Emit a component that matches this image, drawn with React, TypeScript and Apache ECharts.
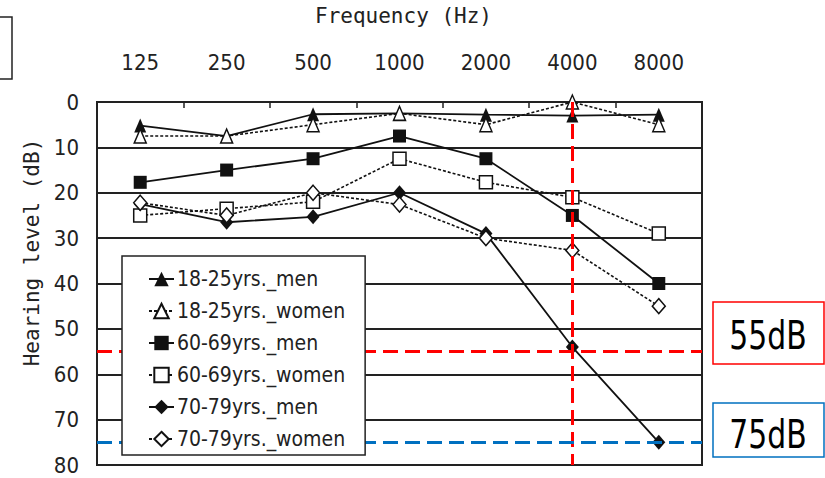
import React, { useEffect, useRef } from "react";
import * as echarts from "echarts";

const freqs = ["125", "250", "500", "1000", "2000", "4000", "8000"];
const yTicks = [0, 10, 20, 30, 40, 50, 60, 70, 80];
const men18 = [5.2, 7.5, 2.7, 2.5, 2.8, 3, 2.8];
const women18 = [7.5, 7.5, 5, 2.5, 5, 0, 5];
const men60 = [17.7, 15, 12.5, 7.5, 12.5, 25, 40];
const women60 = [25, 23.5, 22, 12.5, 17.7, 21, 29];
const men70 = [22.5, 26.5, 25.3, 20, 29, 54, 75];
const women70 = [22.2, 25, 20, 22.6, 30, 32.7, 45];
const seriesNames = [
  "18-25yrs._men",
  "18-25yrs._women",
  "60-69yrs._men",
  "60-69yrs._women",
  "70-79yrs._men",
  "70-79yrs._women",
];
const refFreq = "4000";
const refLevels = [55, 75];
const refLabels = ["55dB", "75dB"];

const NARROW = "'Liberation Sans Narrow', 'DejaVu Sans Condensed', sans-serif";
const MONO = "'DejaVu Sans Mono', monospace";

export default function App() {
  const ref = useRef<HTMLDivElement>(null);
  useEffect(() => {
    if (!ref.current) return;
    const chart = echarts.init(ref.current, null, { renderer: "svg" });
    const mk = (
      name: string,
      data: number[],
      symbol: string,
      size: any,
      filled: boolean,
      dashed: boolean
    ) => ({
      name,
      type: "line",
      data,
      symbol,
      symbolSize: size,
      showAllSymbol: true,
      lineStyle: { color: "#111", width: dashed ? 1.6 : 1.8, type: dashed ? [3, 2] : "solid" },
      itemStyle: {
        color: filled ? "#111" : "#fff",
        borderColor: "#111",
        borderWidth: filled ? 0 : 1.5,
      },
      z: 3,
    });
    const series: any[] = [
      mk(seriesNames[0], men18, "triangle", [12, 14], true, false),
      mk(seriesNames[1], women18, "triangle", [12, 14], false, true),
      mk(seriesNames[2], men60, "rect", 13, true, false),
      mk(seriesNames[3], women60, "rect", 13, false, true),
      mk(seriesNames[4], men70, "diamond", [13, 15], true, false),
      mk(seriesNames[5], women70, "diamond", [13, 15], false, true),
    ];
    series.push({
      type: "line",
      data: [],
      silent: true,
      markLine: {
        silent: true,
        symbol: "none",
        label: { show: false },
        data: [
          { xAxis: freqs.indexOf(refFreq), lineStyle: { color: "#ff0000", width: 3, type: [15, 7] } },
          { yAxis: refLevels[0], lineStyle: { color: "#ff0000", width: 3, type: [15, 7] } },
          { yAxis: refLevels[1], lineStyle: { color: "#0070c0", width: 3, type: [15, 7] } },
        ],
      },
      z: 2,
    });

    chart.setOption({
      animation: false,
      grid: {
        left: 97,
        top: 94,
        width: 605,
        height: 371,
        show: true,
        borderColor: "#222",
        borderWidth: 2,
        backgroundColor: "#fff",
      },
      xAxis: {
        type: "category",
        position: "top",
        data: freqs,
        boundaryGap: true,
        name: "Frequency (Hz)",
        nameLocation: "middle",
        nameGap: 76,
        nameTextStyle: { fontFamily: MONO, fontSize: 21, color: "#222", padding: [0, 0, 0, 8] },
        axisLine: { show: true, lineStyle: { color: "#222", width: 2 } },
        axisTick: { show: true, inside: true, length: 6, lineStyle: { color: "#222", width: 1.5 } },
        axisLabel: { fontFamily: NARROW, fontSize: 22, color: "#222", margin: 29 },
        splitLine: { show: false },
      },
      yAxis: {
        type: "value",
        inverse: true,
        min: yTicks[0],
        max: yTicks[yTicks.length - 1],
        interval: 10,
        name: "Hearing level (dB)",
        nameLocation: "middle",
        nameGap: 46,
        nameRotate: 90,
        nameTextStyle: { fontFamily: MONO, fontSize: 21, color: "#222", padding: [0, 0, 0, 62] },
        axisLine: { show: true, lineStyle: { color: "#222", width: 2 } },
        axisTick: { show: false },
        axisLabel: { fontFamily: NARROW, fontSize: 22, color: "#222", margin: 18 },
        splitLine: { show: true, lineStyle: { color: "#222", width: 2 } },
      },
      legend: {
        orient: "vertical",
        left: 122,
        top: 256,
        data: seriesNames,
        itemWidth: 25,
        itemHeight: 18,
        itemGap: 8,
        padding: [11, 20, 4, 26],
        backgroundColor: "#fff",
        borderColor: "#222",
        borderWidth: 1.5,
        textStyle: { fontFamily: NARROW, fontSize: 21, lineHeight: 24, color: "#222", padding: [0, 0, 0, -2] },
        z: 10,
      },
      graphic: [
        {
          type: "rect",
          shape: { x: -4, y: 17, width: 16, height: 62 },
          style: { fill: "#fff", stroke: "#222", lineWidth: 1.5 },
        },
        {
          type: "rect",
          shape: { x: 713, y: 302, width: 111, height: 62 },
          style: { fill: "#fff", stroke: "#ff0000", lineWidth: 1.5 },
        },
        {
          type: "text",
          x: 768,
          y: 336,
          scaleX: 0.85,
          style: {
            text: refLabels[0],
            font: `39px ${NARROW}`,
            fill: "#000",
            align: "center",
            verticalAlign: "middle",
          },
        },
        {
          type: "rect",
          shape: { x: 713, y: 403, width: 111, height: 54 },
          style: { fill: "#fff", stroke: "#0070c0", lineWidth: 1.5 },
        },
        {
          type: "text",
          x: 768,
          y: 435,
          scaleX: 0.85,
          style: {
            text: refLabels[1],
            font: `39px ${NARROW}`,
            fill: "#000",
            align: "center",
            verticalAlign: "middle",
          },
        },
      ],
      series,
    });
    return () => chart.dispose();
  }, []);
  return (
    <div
      ref={ref}
      style={{ position: "absolute", left: 0, top: 0, width: 825, height: 478, background: "#fff" }}
    />
  );
}
